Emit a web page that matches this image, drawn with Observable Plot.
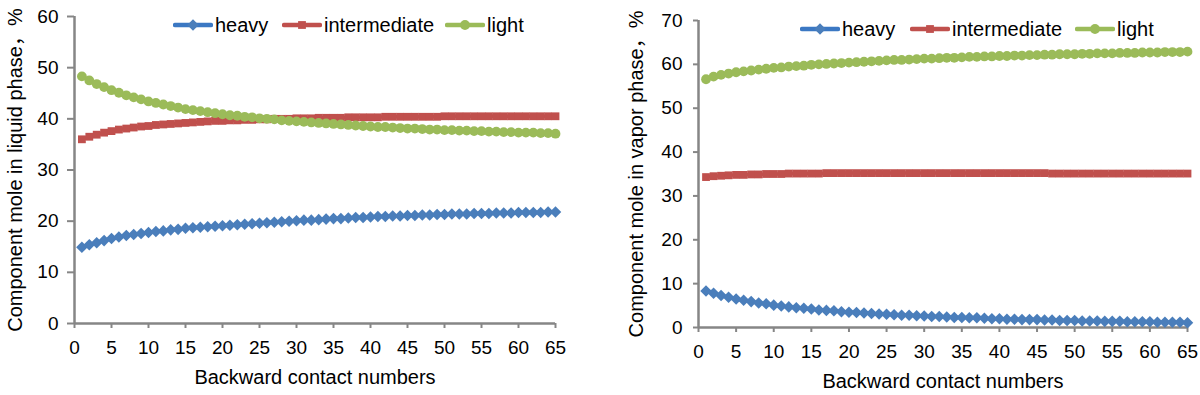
<!DOCTYPE html>
<html>
<head>
<meta charset="utf-8">
<script src="https://cdn.jsdelivr.net/npm/d3@7"></script>
<script src="https://cdn.jsdelivr.net/npm/@observablehq/plot@0.6"></script>
<style>
  html, body { margin: 0; padding: 0; background: #fff; }
  body { width: 1200px; height: 395px; overflow: hidden; font-family: "Liberation Sans", Arial, sans-serif; }
  #wrap { display: flex; width: 1200px; height: 395px; }
  .panel { position: relative; width: 600px; height: 395px; }
  .legend { position: absolute; top: 0; left: 0; width: 600px; height: 60px; pointer-events: none; }
  .item { position: absolute; display: flex; align-items: center; font-size: 20px; color: #000; line-height: 20px; white-space: nowrap; }
  .item svg { display: block; margin-right: 2px; }
</style>
</head>
<body>
<div id="wrap">
  <div class="panel" id="left"></div>
  <div class="panel" id="right"></div>
</div>
<script>
// ---- data ----
const contactNumbers = d3.range(1, 66);
const seriesNames = ["heavy", "intermediate", "light"];
const seriesColors = ["#4a7ebb", "#c0504d", "#9bbb59"];
const lineColors = ["#3b78c3", "#c0504d", "#9bbb59"];
const xTicks = [0, 5, 10, 15, 20, 25, 30, 35, 40, 45, 50, 55, 60, 65];
const yTicksLiquid = [0, 10, 20, 30, 40, 50, 60];
const yTicksVapor = [0, 10, 20, 30, 40, 50, 60, 70];
const xTitle = "Backward contact numbers";
const yTitleLiquid = "Component mole in liquid phase\uFF0C%";
const yTitleVapor = "Component mole in vapor phase\uFF0C%";

const liquidHeavy = [
  14.9, 15.4, 15.8, 16.2, 16.6, 16.9, 17.2, 17.4, 17.6, 17.8,
  18.0, 18.1, 18.3, 18.4, 18.6, 18.7, 18.8, 18.9, 19.0, 19.1,
  19.2, 19.3, 19.4, 19.5, 19.6, 19.7, 19.8, 19.9, 20.0, 20.1,
  20.2, 20.2, 20.3, 20.4, 20.5, 20.5, 20.6, 20.7, 20.7, 20.8,
  20.9, 20.9, 21.0, 21.0, 21.1, 21.1, 21.2, 21.2, 21.3, 21.3,
  21.4, 21.4, 21.4, 21.5, 21.5, 21.5, 21.6, 21.6, 21.6, 21.7,
  21.7, 21.7, 21.7, 21.8, 21.8
];
const liquidIntermediate = [
  36.0, 36.5, 36.9, 37.3, 37.6, 37.9, 38.1, 38.3, 38.5, 38.6,
  38.8, 38.9, 39.0, 39.1, 39.2, 39.3, 39.4, 39.5, 39.6, 39.6,
  39.7, 39.7, 39.8, 39.8, 39.9, 39.9, 40.0, 40.0, 40.0, 40.1,
  40.1, 40.1, 40.2, 40.2, 40.2, 40.2, 40.3, 40.3, 40.3, 40.3,
  40.3, 40.4, 40.4, 40.4, 40.4, 40.4, 40.4, 40.4, 40.4, 40.5,
  40.5, 40.5, 40.5, 40.5, 40.5, 40.5, 40.5, 40.5, 40.5, 40.5,
  40.5, 40.5, 40.5, 40.5, 40.5
];
const liquidLight = [
  48.3, 47.5, 46.8, 46.2, 45.6, 45.1, 44.6, 44.2, 43.8, 43.4,
  43.1, 42.8, 42.5, 42.2, 41.9, 41.7, 41.5, 41.3, 41.1, 40.9,
  40.7, 40.6, 40.4, 40.3, 40.1, 40.0, 39.9, 39.7, 39.6, 39.5,
  39.4, 39.3, 39.2, 39.1, 39.0, 38.9, 38.8, 38.7, 38.6, 38.5,
  38.4, 38.4, 38.3, 38.2, 38.1, 38.1, 38.0, 37.9, 37.9, 37.8,
  37.8, 37.7, 37.7, 37.6, 37.6, 37.5, 37.5, 37.4, 37.4, 37.3,
  37.3, 37.3, 37.2, 37.2, 37.1
];
const vaporHeavy = [
  8.3, 7.8, 7.3, 6.9, 6.5, 6.2, 5.9, 5.6, 5.4, 5.1,
  4.9, 4.7, 4.5, 4.4, 4.2, 4.0, 3.9, 3.8, 3.6, 3.5,
  3.4, 3.3, 3.2, 3.1, 3.0, 2.9, 2.8, 2.8, 2.7, 2.6,
  2.5, 2.5, 2.4, 2.3, 2.3, 2.2, 2.2, 2.1, 2.0, 2.0,
  1.9, 1.9, 1.8, 1.8, 1.8, 1.7, 1.7, 1.6, 1.6, 1.6,
  1.5, 1.5, 1.5, 1.4, 1.4, 1.4, 1.3, 1.3, 1.3, 1.3,
  1.2, 1.2, 1.2, 1.2, 1.1
];
const vaporIntermediate = [
  34.3, 34.5, 34.6, 34.7, 34.8, 34.8, 34.9, 34.9, 35.0, 35.0,
  35.0, 35.1, 35.1, 35.1, 35.1, 35.1, 35.2, 35.2, 35.2, 35.2,
  35.2, 35.2, 35.2, 35.2, 35.2, 35.2, 35.2, 35.2, 35.2, 35.2,
  35.2, 35.2, 35.2, 35.2, 35.2, 35.2, 35.2, 35.2, 35.2, 35.2,
  35.2, 35.2, 35.2, 35.2, 35.2, 35.2, 35.1, 35.1, 35.1, 35.1,
  35.1, 35.1, 35.1, 35.1, 35.1, 35.1, 35.1, 35.1, 35.1, 35.1,
  35.1, 35.1, 35.1, 35.1, 35.1
];
const vaporLight = [
  56.6, 57.2, 57.6, 57.9, 58.2, 58.4, 58.6, 58.8, 59.0, 59.2,
  59.3, 59.5, 59.6, 59.7, 59.9, 60.0, 60.1, 60.2, 60.3, 60.4,
  60.5, 60.6, 60.7, 60.8, 60.9, 61.0, 61.0, 61.1, 61.2, 61.3,
  61.3, 61.4, 61.5, 61.5, 61.6, 61.7, 61.7, 61.8, 61.8, 61.9,
  61.9, 62.0, 62.0, 62.1, 62.1, 62.2, 62.2, 62.3, 62.3, 62.3,
  62.4, 62.4, 62.5, 62.5, 62.5, 62.6, 62.6, 62.6, 62.7, 62.7,
  62.7, 62.8, 62.8, 62.8, 62.9
];

// ---- styling ----
const axisColor = "#868686";
const symbols = ["diamond2", "square", "circle"];
const symbolR = [5.2, 4.4, 4.9];

function toRows(arrays) {
  const rows = [];
  arrays.forEach((arr, s) => {
    arr.forEach((v, i) => rows.push({x: contactNumbers[i], y: v, s}));
  });
  return rows;
}

function makeChart(cfg) {
  const rows = toRows(cfg.arrays);
  const marks = [];
  seriesNames.forEach((name, s) => {
    const sub = rows.filter(d => d.s === s);
    marks.push(Plot.line(sub, {x: "x", y: "y", stroke: lineColors[s], strokeWidth: 3.5}));
    marks.push(Plot.dot(sub, {x: "x", y: "y", symbol: () => symbols[s], r: symbolR[s], fill: seriesColors[s], stroke: "none"}));
  });
  return Plot.plot({
    width: 600,
    height: 395,
    marginLeft: cfg.ml,
    marginRight: cfg.mr,
    marginTop: cfg.mt,
    marginBottom: cfg.mb,
    style: {fontFamily: "'Liberation Sans', Arial, sans-serif", fontSize: "19px", color: "#000", background: "transparent", overflow: "visible"},
    x: {domain: [0, 65], ticks: xTicks},
    y: {domain: cfg.ydomain, ticks: cfg.yticks},
    symbol: {type: "identity"},
    marks: [
      Plot.axisX({ticks: xTicks, tickSize: 5, tickPadding: 12, stroke: axisColor, strokeWidth: 2, label: null, fill: "#000", fontSize: 19}),
      Plot.axisY({ticks: cfg.yticks, tickSize: cfg.yts, tickPadding: cfg.ytp, stroke: axisColor, strokeWidth: 2, label: null, fill: "#000", fontSize: 19}),
      Plot.ruleX([0], {stroke: axisColor, strokeWidth: 2.5}),
      Plot.ruleY([0], {stroke: axisColor, strokeWidth: 2.5}),
      ...marks,
      Plot.text([xTitle], {frameAnchor: "bottom", dy: 54, fontSize: 20, fill: "#000", lineAnchor: "middle", textAnchor: "middle"}),
      Plot.text([cfg.ytitle], {frameAnchor: "left", rotate: -90, dx: cfg.ytdx, fontSize: 20, fill: "#000", lineAnchor: "middle", textAnchor: "middle", fontFamily: "'Liberation Sans', 'Noto Sans CJK SC', sans-serif"})
    ]
  });
}

function legendSwatch(s) {
  const ns = "http://www.w3.org/2000/svg";
  const svg = document.createElementNS(ns, "svg");
  svg.setAttribute("width", 40);
  svg.setAttribute("height", 14);
  const line = document.createElementNS(ns, "line");
  line.setAttribute("x1", 2); line.setAttribute("x2", 38);
  line.setAttribute("y1", 7); line.setAttribute("y2", 7);
  line.setAttribute("stroke", lineColors[s]);
  line.setAttribute("stroke-width", 4.5);
  line.setAttribute("stroke-linecap", "round");
  svg.appendChild(line);
  const p = document.createElementNS(ns, "path");
  const sym = [d3.symbolDiamond2, d3.symbolSquare, d3.symbolCircle][s];
  p.setAttribute("d", d3.symbol(sym, Math.PI * symbolR[s] * symbolR[s])());
  p.setAttribute("transform", "translate(20,7)");
  p.setAttribute("fill", seriesColors[s]);
  svg.appendChild(p);
  return svg;
}

function addLegend(panel, positions, top) {
  const lg = document.createElement("div");
  lg.className = "legend";
  seriesNames.forEach((name, s) => {
    const it = document.createElement("div");
    it.className = "item";
    it.style.left = positions[s] + "px";
    it.style.top = top + "px";
    it.appendChild(legendSwatch(s));
    const t = document.createElement("span");
    t.textContent = name;
    it.appendChild(t);
    lg.appendChild(it);
  });
  panel.appendChild(lg);
}

const leftPanel = document.getElementById("left");
const rightPanel = document.getElementById("right");

leftPanel.appendChild(makeChart({
  arrays: [liquidHeavy, liquidIntermediate, liquidLight],
  ml: 74, mr: 45, mt: 16, mb: 72,
  ydomain: [0, 60], yticks: yTicksLiquid, yts: 7, ytp: 9,
  ytitle: yTitleLiquid, ytdx: -59
}));
rightPanel.appendChild(makeChart({
  arrays: [vaporHeavy, vaporIntermediate, vaporLight],
  ml: 98, mr: 13, mt: 20, mb: 68,
  ydomain: [0, 70], yticks: yTicksVapor, yts: 5, ytp: 11,
  ytitle: yTitleVapor, ytdx: -62
}));
leftPanel.querySelector("svg").style.position = "absolute";
rightPanel.querySelector("svg").style.position = "absolute";
addLegend(leftPanel, [173, 282, 445], 15);
addLegend(rightPanel, [200, 310, 475], 19);
</script>
</body>
</html>
